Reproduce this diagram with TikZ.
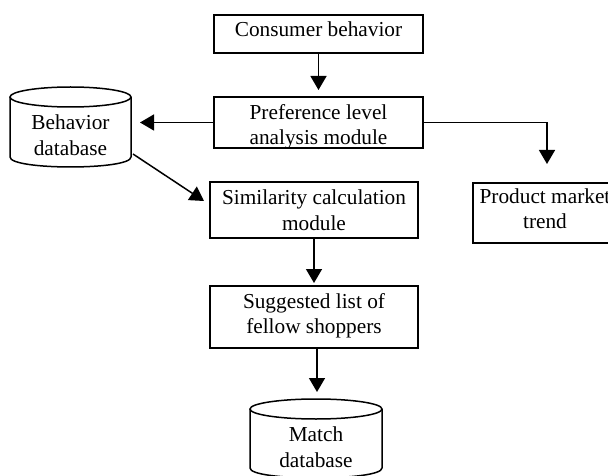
\documentclass[tikz,border=0pt]{standalone}
\usepackage{fontspec}
\setmainfont{Liberation Serif}
\usetikzlibrary{arrows.meta}
\begin{document}
\begin{tikzpicture}[x=1pt,y=-1pt,
  frame/.style={draw,line width=1.5pt,inner sep=0pt},
  txt/.style={align=center,inner sep=0pt,font=\fontsize{21.3}{25.5}\selectfont},
  arr/.style={line width=1.5pt,-{Triangle[length=14pt,width=16pt]}},
  ln/.style={line width=1.5pt}]
\path[use as bounding box,clip] (0,0) rectangle (608,476);
% boxes
\node[frame,minimum width=209pt,minimum height=38pt] (cons) at (318.5,34) {};
\node[txt] (consT) at (318.5,29.7) {Consumer behavior};
\node[frame,minimum width=209pt,minimum height=51pt] (pref) at (318.5,122.5) {};
\node[txt] (prefT) at (318.5,126.7) {Preference level\\analysis module};
\node[frame,minimum width=208pt,minimum height=56pt] (sim) at (314,210) {};
\node[txt] (simT) at (314,210.4) {Similarity calculation\\module};
\node[frame,minimum width=144pt,minimum height=60pt] (prod) at (545,213) {};
\node[txt] (prodT) at (545,208.9) {Product market\\trend};
\node[frame,minimum width=208pt,minimum height=62pt] (sugg) at (314,317) {};
\node[txt] (suggT) at (314,315.7) {Suggested list of\\fellow shoppers};
% behavior database cylinder
\draw[ln] (10,97) -- (10,157) .. controls (10,170.3) and (131,170.3) .. (131,157) -- (131,97);
\draw[ln] (70.5,97) ellipse [x radius=60.5, y radius=10];
\node[txt] (bdbT) at (70.5,135.4) {Behavior\\database};
% match database cylinder
\draw[ln] (250,409) -- (250,468) .. controls (250,481.3) and (382,481.3) .. (382,468) -- (382,409);
\draw[ln] (316,409) ellipse [x radius=66, y radius=10];
\node[txt] (matchT) at (316,447.4) {Match\\database};
% connector ends
\coordinate (prefIn) at (318.5,90);
\coordinate (bdbIn) at (140,122.5);
\coordinate (prodIn) at (547,164);
\coordinate (bdbOut) at (133,154);
\coordinate (simIn) at (204,201);
\coordinate (suggIn) at (314,283);
\coordinate (matchIn) at (317,392);
% connectors
\draw[arr] (cons.south) -- (prefIn);
\draw[arr] (pref.west) -- (bdbIn);
\draw[arr] (pref.east) -| (prodIn);
\draw[arr] (bdbOut) -- (simIn);
\draw[arr] (sim.south) -- (suggIn);
\draw[arr] (sugg.south -| matchIn) -- (matchIn);
\end{tikzpicture}
\end{document}
